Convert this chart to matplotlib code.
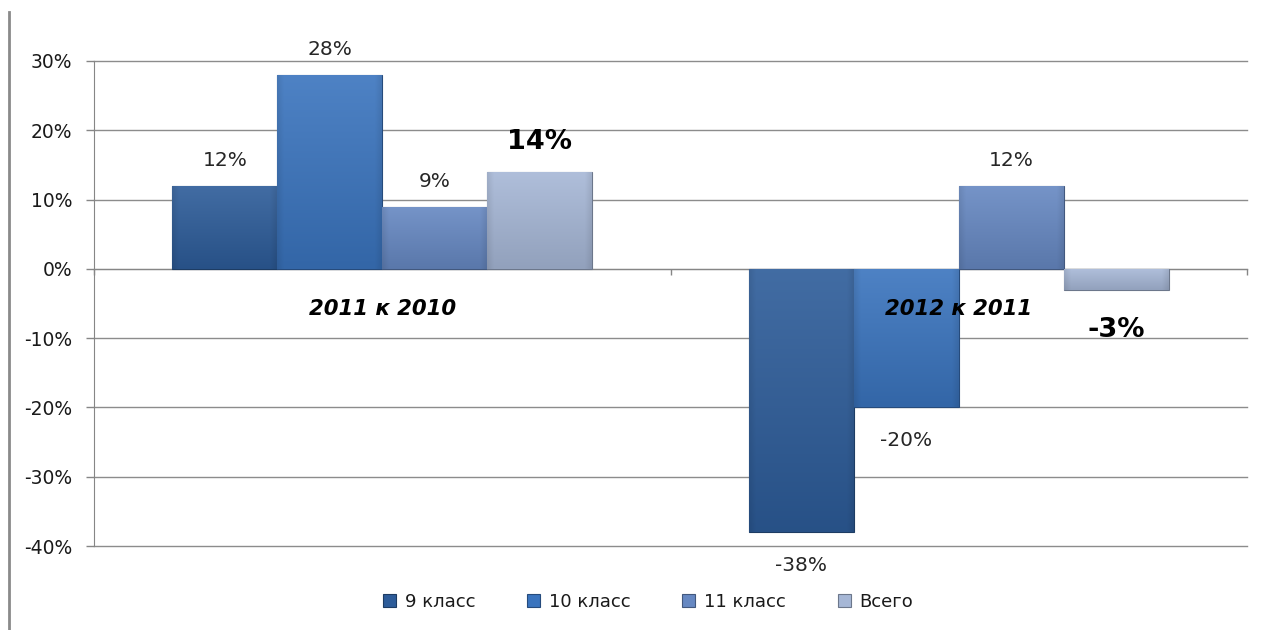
import numpy as np
import matplotlib
matplotlib.use('Agg')
import matplotlib.pyplot as plt
from matplotlib.colors import to_rgb
from matplotlib.lines import Line2D
from matplotlib.patches import Patch
from matplotlib.ticker import FuncFormatter

plt.rcParams['font.family'] = ['DejaVu Sans']

# ---- data ----
categories = ['2011 к 2010', '2012 к 2011']
series = ['9 класс', '10 класс', '11 класс', 'Всего']
v9 = [12, -38]
v10 = [28, -20]
v11 = [9, 12]
v_total = [14, -3]
values = [v9, v10, v11, v_total]
yticks = [-40, -30, -20, -10, 0, 10, 20, 30]

colors = ['#2D5C99', '#3A74BE', '#6688C2', '#A6B7D6']

fig = plt.figure(figsize=(12.63, 6.3), dpi=100)
ax = fig.add_axes([94 / 1263, 1 - 546 / 630, (1247 - 94) / 1263, (546 - 61) / 630])

x = np.arange(len(categories))
w = 0.182


def blend(c, t, a):
    c = np.array(to_rgb(c)); t = np.array(to_rgb(t))
    return c * (1 - a) + t * a


for i, (name, vals, col) in enumerate(zip(series, values, colors)):
    bars = ax.bar(x + (i - 1.5) * w, vals, w, color=col,
                  edgecolor=blend(col, 'black', 0.35), linewidth=0.8,
                  label=name, zorder=3)
    for rect, v in zip(bars, vals):
        x0 = rect.get_x(); bw = rect.get_width()
        y0 = rect.get_y(); h = rect.get_height()
        lo, hi = min(y0, y0 + h), max(y0, y0 + h)
        top = blend(col, 'white', 0.10)
        bot = blend(col, 'black', 0.12)
        t = np.linspace(0, 1, 64)[:, None, None]
        img = top * (1 - t) + bot * t
        xs = np.linspace(0, 1, 64)[None, :, None]
        side = 1 - 0.08 * (np.clip(1 - xs / 0.06, 0, 1) + np.clip((xs - 0.94) / 0.06, 0, 1))
        img = np.clip(img * side, 0, 1)
        im = ax.imshow(img, extent=[x0, x0 + bw, lo, hi], aspect='auto',
                       origin='upper', zorder=3.1, interpolation='bilinear')
        im.set_clip_path(rect)
        bold = (i == len(series) - 1)
        if v >= 0:
            off = 30 if bold else 25
        else:
            off = -40 if bold else -33
        ax.annotate(f'{v}%', xy=(x0 + bw / 2, v), xytext=(0, off),
                    textcoords='offset pixels', ha='center', va='center',
                    fontsize=19.5 if bold else 14.5,
                    fontweight='bold' if bold else 'normal',
                    color='black' if bold else '#262626', zorder=5)

for j, cat in enumerate(categories):
    ax.annotate(cat, xy=(x[j], 0), xytext=(0, -40), textcoords='offset pixels',
                ha='center', va='center', fontsize=15.3, fontweight='bold',
                fontstyle='italic', color='black', zorder=6)

ax.set_xlim(-0.5, len(categories) - 0.5)
ax.set_ylim(min(yticks), max(yticks))
ax.set_yticks(yticks)
ax.yaxis.set_major_formatter(FuncFormatter(lambda v, p: f'{int(v)}%'))
ax.tick_params(axis='y', direction='out', length=5.8, width=1, color='#868686',
               labelsize=13.5, labelcolor='#1a1a1a', pad=10)
ax.set_xticks(np.arange(len(categories) + 1) - 0.5)
ax.set_xticklabels([])
ax.tick_params(axis='x', direction='out', length=4.5, width=1, color='#868686')

ax.grid(axis='y', color='#8C8C8C', linewidth=1, zorder=0)
for gl in ax.get_ygridlines():
    gl.set_clip_on(False)
ax.set_axisbelow(True)
for s in ['top', 'right']:
    ax.spines[s].set_visible(False)
ax.spines['left'].set_color('#868686')
ax.spines['bottom'].set_color('#868686')
ax.spines['bottom'].set_position(('data', 0))
ax.spines['bottom'].set_zorder(2)

handles = [Patch(facecolor=c, edgecolor=blend(c, 'black', 0.35), linewidth=0.8)
           for c in colors]
fig.legend(handles, series, loc='center', bbox_to_anchor=(648 / 1263, 1 - 602 / 630),
           ncol=4, frameon=False, fontsize=13, handlelength=0.72, handleheight=0.72,
           handletextpad=0.45, columnspacing=2.9, labelcolor='#1a1a1a')

fig.add_artist(Line2D([9 / 1263, 9 / 1263], [0, 1 - 12 / 630],
                      transform=fig.transFigure, color='#8A8A8A', linewidth=2))

fig.savefig('out.png', dpi=100, facecolor='white')
